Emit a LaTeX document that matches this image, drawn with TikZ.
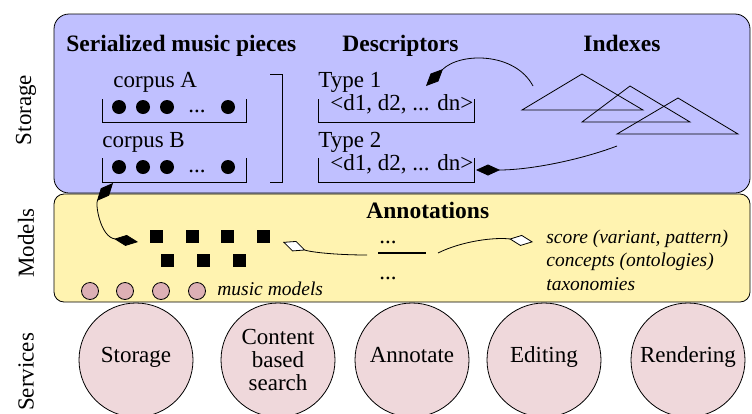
\documentclass[tikz,border=0pt]{standalone}
\usepackage{fontspec}
\setmainfont{Liberation Serif}
\usepackage{tikz}
\usetikzlibrary{arrows.meta,%
                shapes.geometric}

\definecolor{storagebg}{RGB}{192,192,255}
\definecolor{modelsbg}{RGB}{255,243,176}
\definecolor{servicebg}{RGB}{239,216,219}
\definecolor{modelbg}{RGB}{221,176,181}

\begin{document}
\begin{tikzpicture}[x=1pt, y=-1pt, line width=0.8pt]
    \useasboundingbox (0,0) rectangle (752,413);
    \tikzstyle{Layer}=[rotate=90, inner sep=0pt, font=\fontsize{23}{27}\selectfont]
    \tikzstyle{Title}=[anchor=base west, inner sep=0pt, font=\fontsize{23.5}{28}\selectfont\bfseries]
    \tikzstyle{Txt}=[anchor=base west, inner sep=0pt, font=\fontsize{23}{27}\selectfont]
    \tikzstyle{Ital}=[anchor=base west, inner sep=0pt, font=\fontsize{19.5}{23.5}\selectfont\itshape]
    \tikzstyle{Service}=[draw, ellipse, fill=servicebg, minimum width=114pt, minimum height=114pt,
                         inner xsep=-9pt, inner ysep=0pt, align=center, font=\fontsize{23}{23}\selectfont]
    \tikzstyle{OneLine}=[text height=13pt, text depth=8pt]
    \tikzstyle{Piece}=[circle, fill=black, minimum size=14pt, inner sep=0pt]
    \tikzstyle{Note}=[rectangle, fill=black, minimum size=13pt, inner sep=0pt]
    \tikzstyle{Model}=[circle, draw, fill=modelbg, minimum size=17pt, inner sep=0pt]
    \tikzstyle{Full}=[-{Diamond[length=24pt, width=11pt]}]
    \tikzstyle{Open}=[-{Diamond[length=24pt, width=11pt, fill=white]}]

    % layers
    \draw[rounded corners=15pt, fill=storagebg] (54,14) rectangle (750,193);
    \draw[rounded corners=10pt, fill=modelsbg] (54,194) rectangle (750,302);
    \node[Layer] (lStorage) at (26,110) {Storage};
    \node[Layer] (lModels) at (26,243) {Models};
    \node[Layer] (lServices) at (26,372) {Services};

    % storage
    \node[Title] (tPieces) at (66,51) {Serialized music pieces};
    \node[Title] (tDesc) at (342,51) {Descriptors};
    \node[Title] (tIdx) at (583,51) {Indexes};

    \node[Txt] (corpusA) at (113,87) {corpus A};
    \node[Txt] (corpusB) at (102,147) {corpus B};
    \foreach \y in {107,167} {
        \foreach \x in {119,143,167,228}
            \node[Piece] at (\x,\y) {};
        \node[Txt, anchor=base] at (197,\y+5) {...};
    }
    \draw (102,99) -- (102,122) -- (246,122) -- (246,99);
    \draw (102,158) -- (102,182) -- (246,182) -- (246,158);
    \draw (270,74) -- (282,74) -- (282,182) -- (270,182);

    \node[Txt] (typeA) at (318,87) {Type 1};
    \node[Txt] (typeB) at (318,147) {Type 2};
    \node[Txt] (vecA) at (330,110) {\textless d1, d2, ... dn\textgreater};
    \node[Txt] (vecB) at (330,170) {\textless d1, d2, ... dn\textgreater};
    \draw (318,99) -- (318,122) -- (474,122) -- (474,99);
    \draw (318,158) -- (318,182) -- (474,182) -- (474,158);

    \draw (522,110) -- (582,74) -- (643,110) -- cycle;
    \draw (582,122) -- (630,86) -- (690,122) -- cycle;
    \draw (617,134) -- (678,98) -- (738,134) -- cycle;

    \coordinate (idxA) at (533,86);
    \coordinate (descA) at (426,86);
    \coordinate (idxB) at (617,146);
    \coordinate (descB) at (476,170);
    \draw[Full] (idxA) .. controls (515,52) and (460,52) .. (descA);
    \draw[Full] (idxB) .. controls (580,160) and (530,170) .. (descB);

    % models
    \node[Title] (tAnnot) at (366,218) {Annotations};
    \foreach \x in {156,192,227,263}
        \node[Note] at (\x,236) {};
    \foreach \x in {167,203,239}
        \node[Note] at (\x,260) {};
    \foreach \x in {90,125,161,197}
        \node[Model] at (\x,291) {};
    \node[Ital] (mModels) at (217,295) {music models};

    \node[Txt] (annTop) at (379,243) {...};
    \node[Txt] (annBot) at (379,279) {...};
    \draw[line width=1.6pt] (378,253) -- (426,253);

    \node[Ital] (kScore) at (546,243) {score (variant, pattern)};
    \node[Ital] (kConcept) at (546,266) {concepts (ontologies)};
    \node[Ital] (kTaxo) at (546,290) {taxonomies};

    \coordinate (pieceB) at (113,183);
    \coordinate (notes) at (138,242);
    \coordinate (annL) at (367,255);
    \coordinate (notesR) at (283,242);
    \coordinate (annR) at (438,253);
    \coordinate (kinds) at (533,242);
    \draw[{Diamond[length=24pt, width=11pt]}-{Diamond[length=24pt, width=11pt]}]
        (pieceB) .. controls (95,203) and (100,237) .. (notes);
    \draw[Open] (annL) .. controls (335,255) and (310,252) .. (notesR);
    \draw[Open] (annR) .. controls (462,241) and (495,237) .. (kinds);

    % services
    \node[Service, OneLine] (sStorage) at (136,360) {Storage};
    \node[Service] (sSearch) at (278,360) {Content\\based\\search};
    \node[Service, OneLine] (sAnnot) at (412,360) {Annotate};
    \node[Service, OneLine] (sEdit) at (544,360) {Editing};
    \node[Service, OneLine] (sRender) at (688,360) {Rendering};
\end{tikzpicture}
\end{document}
